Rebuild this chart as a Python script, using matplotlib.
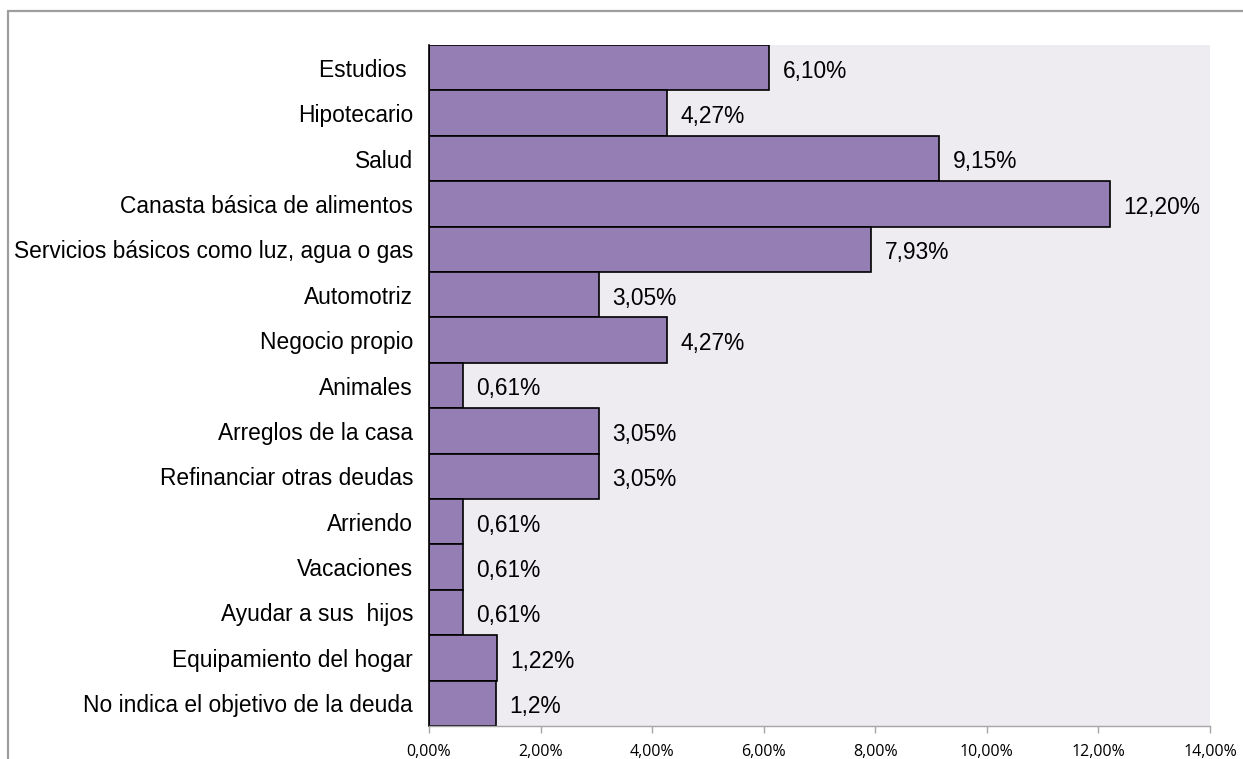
import matplotlib
matplotlib.use("Agg")
import matplotlib.pyplot as plt
from matplotlib.patches import Rectangle

categories = ["Estudios ", "Hipotecario", "Salud", "Canasta básica de alimentos",
              "Servicios básicos como luz, agua o gas", "Automotriz", "Negocio propio",
              "Animales", "Arreglos de la casa", "Refinanciar otras deudas", "Arriendo",
              "Vacaciones", "Ayudar a sus  hijos", "Equipamiento del hogar",
              "No indica el objetivo de la deuda"]
values = [6.10, 4.27, 9.15, 12.20, 7.93, 3.05, 4.27, 0.61, 3.05, 3.05, 0.61, 0.61, 0.61, 1.22, 1.2]
value_labels = ["6,10%", "4,27%", "9,15%", "12,20%", "7,93%", "3,05%", "4,27%", "0,61%",
                "3,05%", "3,05%", "0,61%", "0,61%", "0,61%", "1,22%", "1,2%"]
xticks = [0, 2, 4, 6, 8, 10, 12, 14]
xtick_labels = ["0,00%", "2,00%", "4,00%", "6,00%", "8,00%", "10,00%", "12,00%", "14,00%"]

W, H = 1243, 759
fig = plt.figure(figsize=(W/100, H/100), dpi=100)
fig.patch.set_facecolor("white")

# outer border (cropped at right/bottom)
fig.patches.append(Rectangle((8/W, -0.05), 1.1, 1 - 11/H + 0.05, transform=fig.transFigure,
                             fill=False, edgecolor="#9E9E9E", linewidth=1.6, zorder=0))

left, right, top, bottom = 429, 1210, 45, 726
ax = fig.add_axes([left/W, 1 - bottom/H, (right-left)/W, (bottom-top)/H])
ax.set_facecolor("#EEEBF1")

y = list(range(len(categories)))
ax.barh(y, values, height=1.0, color="#947EB3", edgecolor="black", linewidth=1.2, zorder=2)
ax.set_ylim(len(categories) - 0.5, -0.5)
ax.set_xlim(0, 14)

for yi, v, lab in zip(y, values, value_labels):
    ax.annotate(lab, (v, yi), xytext=(9.5, -2.5), textcoords="offset points",
                va="center", ha="left", fontsize=16.4, family="Liberation Sans")

ax.set_yticks(y)
ax.set_yticklabels(categories, fontsize=16.4, family="Liberation Sans")
ax.tick_params(axis="y", length=0, pad=11.5)
ax.set_xticks(xticks)
ax.set_xticklabels(xtick_labels, fontsize=11.5, family="Open Sans")
ax.tick_params(axis="x", length=5, color="#A6A6A6", width=1, pad=8)

for s in ["top", "right"]:
    ax.spines[s].set_visible(False)
ax.spines["left"].set_color("black")
ax.spines["left"].set_linewidth(1.2)
ax.spines["bottom"].set_color("#A6A6A6")
ax.spines["bottom"].set_linewidth(1)

fig.savefig("out.png", dpi=100)
